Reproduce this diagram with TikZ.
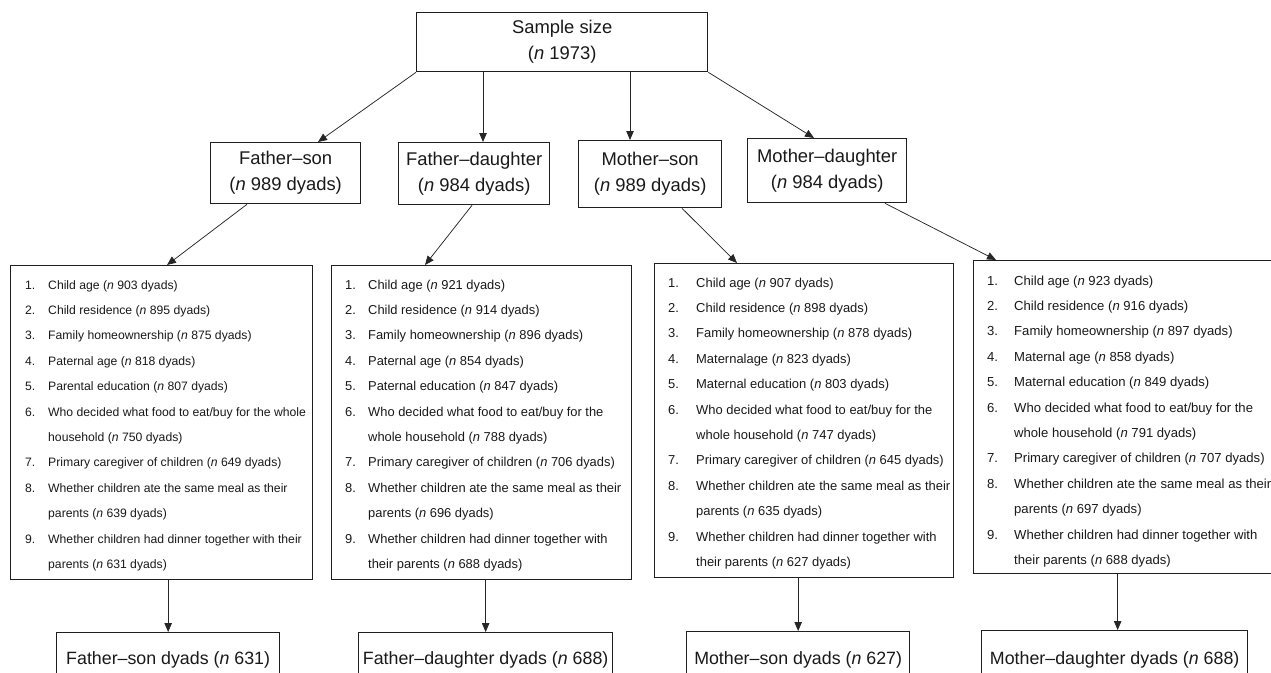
\documentclass[tikz,border=0pt]{standalone}
\usepackage{fontspec}
\setmainfont{Liberation Sans}
\usetikzlibrary{arrows.meta,calc}
\begin{document}
\begin{tikzpicture}[x=1pt,y=-1pt,
  box/.style={draw=black!88, line width=1.3pt, inner sep=0pt, anchor=north west, align=center, text=black!90},
  big/.style={font=\fontsize{18.4}{26}\selectfont},
  bot/.style={font=\fontsize{17.8}{22}\selectfont},
  arr/.style={draw=black!85, line width=0.75pt, -{Triangle[length=9pt,width=7.5pt]}},
  lst/.style={anchor=base west, inner sep=0pt, text=black!90}]

\useasboundingbox (0,0) rectangle (1271,672);
\clip (0,0) rectangle (1271,672);

% top
\node[box,big,minimum width=291pt,minimum height=59pt] (sample) at (416,12) {Sample size\\(\textit{n} 1973)};

% second row
\node[box,big,minimum width=150pt,minimum height=61pt] (fs) at (210,142) {Father–son\\(\textit{n} 989 dyads)};
\node[box,big,minimum width=151pt,minimum height=62pt] (fd) at (398,142) {Father–daughter\\(\textit{n} 984 dyads)};
\node[box,big,minimum width=143pt,minimum height=67pt] (ms) at (578,140) {Mother–son\\(\textit{n} 989 dyads)};
\node[box,big,minimum width=159pt,minimum height=64pt] (md) at (747,138) {Mother–daughter\\(\textit{n} 984 dyads)};

% list boxes
\node[box,minimum width=302pt,minimum height=314pt] (l1) at (10,265) {};
\node[box,minimum width=300pt,minimum height=314pt] (l2) at (331,265) {};
\node[box,minimum width=299pt,minimum height=314pt] (l3) at (654,263) {};
\node[box,minimum width=304pt,minimum height=313pt] (l4) at (973,260) {};

\node[lst,font=\fontsize{12.2}{25.4}\selectfont] (t1) at (25,289) {\begin{tabular}[t]{@{}p{23pt}@{}l@{}}
1. & Child age (\textit{n} 903 dyads)\\
2. & Child residence (\textit{n} 895 dyads)\\
3. & Family homeownership (\textit{n} 875 dyads)\\
4. & Paternal age (\textit{n} 818 dyads)\\
5. & Parental education (\textit{n} 807 dyads)\\
6. & Who decided what food to eat/buy for the whole\\
   & household (\textit{n} 750 dyads)\\
7. & Primary caregiver of children (\textit{n} 649 dyads)\\
8. & Whether children ate the same meal as their\\
   & parents (\textit{n} 639 dyads)\\
9. & Whether children had dinner together with their\\
   & parents (\textit{n} 631 dyads)
\end{tabular}};

\node[lst,font=\fontsize{12.9}{25.4}\selectfont] (t2) at (345,289) {\begin{tabular}[t]{@{}p{23pt}@{}l@{}}
1. & Child age (\textit{n} 921 dyads)\\
2. & Child residence (\textit{n} 914 dyads)\\
3. & Family homeownership (\textit{n} 896 dyads)\\
4. & Paternal age (\textit{n} 854 dyads)\\
5. & Paternal education (\textit{n} 847 dyads)\\
6. & Who decided what food to eat/buy for the\\
   & whole household (\textit{n} 788 dyads)\\
7. & Primary caregiver of children (\textit{n} 706 dyads)\\
8. & Whether children ate the same meal as their\\
   & parents (\textit{n} 696 dyads)\\
9. & Whether children had dinner together with\\
   & their parents (\textit{n} 688 dyads)
\end{tabular}};

\node[lst,font=\fontsize{12.95}{25.4}\selectfont] (t3) at (668,287) {\begin{tabular}[t]{@{}p{28pt}@{}l@{}}
1. & Child age (\textit{n} 907 dyads)\\
2. & Child residence (\textit{n} 898 dyads)\\
3. & Family homeownership (\textit{n} 878 dyads)\\
4. & Maternalage (\textit{n} 823 dyads)\\
5. & Maternal education (\textit{n} 803 dyads)\\
6. & Who decided what food to eat/buy for the\\
   & whole household (\textit{n} 747 dyads)\\
7. & Primary caregiver of children (\textit{n} 645 dyads)\\
8. & Whether children ate the same meal as their\\
   & parents (\textit{n} 635 dyads)\\
9. & Whether children had dinner together with\\
   & their parents (\textit{n} 627 dyads)
\end{tabular}};

\node[lst,font=\fontsize{13.1}{25.4}\selectfont] (t4) at (987,285) {\begin{tabular}[t]{@{}p{27pt}@{}l@{}}
1. & Child age (\textit{n} 923 dyads)\\
2. & Child residence (\textit{n} 916 dyads)\\
3. & Family homeownership (\textit{n} 897 dyads)\\
4. & Maternal age (\textit{n} 858 dyads)\\
5. & Maternal education (\textit{n} 849 dyads)\\
6. & Who decided what food to eat/buy for the\\
   & whole household (\textit{n} 791 dyads)\\
7. & Primary caregiver of children (\textit{n} 707 dyads)\\
8. & Whether children ate the same meal as their\\
   & parents (\textit{n} 697 dyads)\\
9. & Whether children had dinner together with\\
   & their parents (\textit{n} 688 dyads)
\end{tabular}};

% bottom boxes
\node[box,bot,minimum width=223pt,minimum height=54pt] (b1) at (56,632) {Father–son dyads (\textit{n} 631)};
\node[box,bot,minimum width=254pt,minimum height=54pt] (b2) at (358,632) {Father–daughter dyads (\textit{n} 688)};
\node[box,bot,minimum width=223pt,minimum height=56pt] (b3) at (686,631) {Mother–son dyads (\textit{n} 627)};
\node[box,bot,minimum width=266pt,minimum height=58pt] (b4) at (981,630) {Mother–daughter dyads (\textit{n} 688)};

% arrows: top to second row
\draw[arr] (sample.south west) -- ([xshift=108pt]fs.north west);
\draw[arr] ([xshift=67pt]sample.south west) -- ([xshift=67pt]sample.south west |- fd.north);
\draw[arr] ([xshift=214pt]sample.south west) -- ([xshift=214pt]sample.south west |- ms.north);
\draw[arr] (sample.south east) -- ([xshift=67pt]md.north west);

% second row to lists
\draw[arr] ([xshift=37pt]fs.south west) -- ([xshift=157pt]l1.north west);
\draw[arr] ([xshift=74pt]fd.south west) -- ([xshift=94pt]l2.north west);
\draw[arr] ([xshift=104pt]ms.south west) -- ([xshift=83pt]l3.north west);
\draw[arr] ([xshift=138pt]md.south west) -- ([xshift=23pt]l4.north west);

% lists to final boxes
\draw[arr] (b1.north |- l1.south) -- (b1.north);
\draw[arr] (b2.north |- l2.south) -- (b2.north);
\draw[arr] (b3.north |- l3.south) -- (b3.north);
\draw[arr] ([xshift=3pt]b4.north |- l4.south) -- ([xshift=3pt]b4.north);
\end{tikzpicture}
\end{document}
